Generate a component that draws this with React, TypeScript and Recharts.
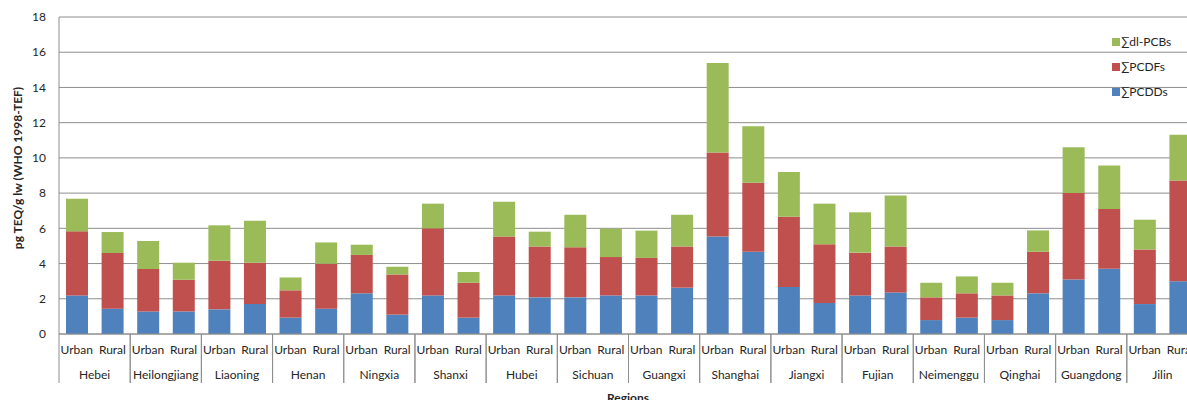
import { BarChart, Bar, XAxis, YAxis, CartesianGrid, Legend } from "recharts"

const regions = [
  "Hebei", "Heilongjiang", "Liaoning", "Henan", "Ningxia", "Shanxi", "Hubei", "Sichuan",
  "Guangxi", "Shanghai", "Jiangxi", "Fujian", "Neimenggu", "Qinghai", "Guangdong", "Jilin",
]
const areaTypes = ["Urban", "Rural"]

// stacked segments, Urban/Rural pairs per region
const pcdds = [
  2.19, 1.44, 1.28, 1.28, 1.4, 1.7, 0.93, 1.44, 2.31, 1.1, 2.19, 0.93, 2.19, 2.08, 2.08, 2.19,
  2.19, 2.63, 5.53, 4.67, 2.67, 1.76, 2.19, 2.36, 0.79, 0.93, 0.79, 2.31, 3.1, 3.71, 1.7, 2.99,
]
const pcdfs = [
  3.64, 3.16, 2.41, 1.8, 2.76, 2.35, 1.55, 2.55, 2.18, 2.28, 3.81, 1.98, 3.34, 2.89, 2.84, 2.18,
  2.13, 2.34, 4.77, 3.92, 3.99, 3.33, 2.43, 2.61, 1.29, 1.38, 1.4, 2.36, 4.91, 3.39, 3.1, 5.73,
]
const dlPcbs = [
  1.85, 1.19, 1.59, 0.97, 2.01, 2.38, 0.73, 1.21, 0.58, 0.44, 1.4, 0.61, 1.98, 0.84, 1.85, 1.61,
  1.55, 1.8, 5.09, 3.2, 2.54, 2.31, 2.29, 2.9, 0.83, 0.96, 0.72, 1.21, 2.59, 2.47, 1.69, 2.6,
]
const yTicks = [0, 2, 4, 6, 8, 10, 12, 14, 16, 18]

const series = [
  { key: "pcdds", name: "∑PCDDs", color: "#4F81BD" },
  { key: "pcdfs", name: "∑PCDFs", color: "#C0504D" },
  { key: "dlPcbs", name: "∑dl-PCBs", color: "#9BBB59" },
]

const data = pcdds.map((v, i) => ({
  id: i,
  region: regions[Math.floor(i / 2)],
  type: areaTypes[i % 2],
  pcdds: v,
  pcdfs: pcdfs[i],
  dlPcbs: dlPcbs[i],
}))

const FONT = "Lato, 'Open Sans', sans-serif"
const CHART_W = 1198
const Y_AXIS_W = 59
const BAND = (CHART_W - Y_AXIS_W) / data.length
const GRID = "#8e8e8e"

function CategoryTick({ x, y, payload }: any) {
  const i = payload.index
  const row = data[i]
  const isFirst = i % 2 === 0
  return (
    <g>
      <text x={x} y={y + 20} textAnchor="middle" fill="#262626" fontSize={12} fontFamily={FONT}>
        {row.type}
      </text>
      {isFirst && (
        <>
          <line x1={x - BAND / 2} x2={x - BAND / 2} y1={y} y2={y + 49} stroke={GRID} />
          <text x={x + BAND / 2} y={y + 45} textAnchor="middle" fill="#262626" fontSize={12} fontFamily={FONT}>
            {row.region}
          </text>
        </>
      )}
      {!isFirst && <line x1={x + BAND / 2} x2={x + BAND / 2} y1={y} y2={y + 49} stroke={GRID} />}
    </g>
  )
}

function LegendBox() {
  return (
    <div style={{ fontFamily: FONT, fontSize: 12, color: "#262626" }}>
      {[...series].reverse().map((s) => (
        <div key={s.key} style={{ display: "flex", alignItems: "center", height: 25 }}>
          <span style={{ width: 8, height: 8, background: s.color, marginRight: 1, display: "inline-block" }} />
          <span>{s.name}</span>
        </div>
      ))}
    </div>
  )
}

export default function App() {
  return (
    <div style={{ position: "absolute", left: 0, top: 0, width: 1187, height: 400, overflow: "hidden", background: "#fff" }}>
      <BarChart width={CHART_W} height={400} data={data} margin={{ top: 17, right: 0, left: 0, bottom: 0 }} barSize={22}>
        <CartesianGrid vertical={false} stroke={GRID} />
        <XAxis
          dataKey="id"
          height={66}
          interval={0}
          tickLine={false}
          tickSize={0}
          tickMargin={0}
          axisLine={{ stroke: GRID }}
          tick={<CategoryTick />}
          label={{
            content: () => (
              <text x={628} y={402} textAnchor="middle" fontWeight="bold" fontSize={12} fill="#262626" fontFamily={FONT}>
                Regions
              </text>
            ),
          }}
        />
        <YAxis
          width={Y_AXIS_W}
          domain={[0, 18]}
          ticks={yTicks}
          tickLine={false}
          tickMargin={7}
          axisLine={{ stroke: GRID }}
          tick={{ fontSize: 12, fill: "#262626", fontFamily: FONT }}
          label={{
            content: () => (
              <text
                transform="translate(18,168) rotate(-90)"
                textAnchor="middle"
                dy="0.35em"
                fontWeight="bold"
                fontSize={12}
                fill="#262626"
                fontFamily={FONT}
              >
                pg TEQ/g lw (WHO 1998-TEF)
              </text>
            ),
          }}
        />
        <Legend
          layout="vertical"
          verticalAlign="middle"
          align="center"
          content={<LegendBox />}
          wrapperStyle={{ top: 29, left: 1112, width: 90 }}
        />
        {series.map((s) => (
          <Bar key={s.key} dataKey={s.key} name={s.name} stackId="a" fill={s.color} isAnimationActive={false} />
        ))}
      </BarChart>
    </div>
  )
}
